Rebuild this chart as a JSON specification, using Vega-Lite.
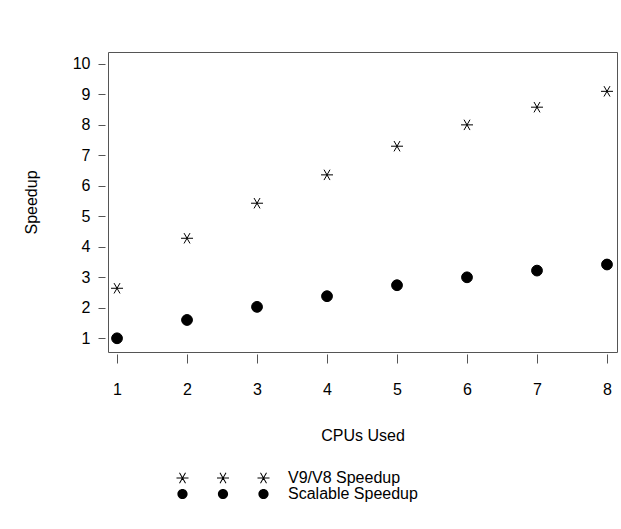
{
  "$schema": "https://vega.github.io/schema/vega-lite/v6.json",
  "autosize": {"type": "none"},
  "width": 509,
  "height": 300,
  "padding": {"left": 108, "top": 52, "right": 4, "bottom": 177},
  "background": "white",
  "config": {
    "font": "Liberation Sans",
    "view": {"stroke": "#555", "strokeWidth": 1},
    "axis": {
      "grid": false,
      "domain": false,
      "tickColor": "#555",
      "labelColor": "black",
      "labelFont": "Liberation Sans",
      "labelFontSize": 16,
      "titleFont": "Liberation Sans",
      "titleFontSize": 16,
      "titleFontWeight": "normal",
      "titleColor": "black"
    },
    "legend": {
      "labelFont": "Liberation Sans",
      "labelFontSize": 16,
      "labelColor": "black"
    }
  },
  "data": {
    "values": [
      {"cpus": 1, "series": "V9/V8 Speedup", "speedup": 2.64},
      {"cpus": 2, "series": "V9/V8 Speedup", "speedup": 4.28},
      {"cpus": 3, "series": "V9/V8 Speedup", "speedup": 5.43},
      {"cpus": 4, "series": "V9/V8 Speedup", "speedup": 6.36},
      {"cpus": 5, "series": "V9/V8 Speedup", "speedup": 7.3},
      {"cpus": 6, "series": "V9/V8 Speedup", "speedup": 8.0},
      {"cpus": 7, "series": "V9/V8 Speedup", "speedup": 8.58},
      {"cpus": 8, "series": "V9/V8 Speedup", "speedup": 9.1},
      {"cpus": 1, "series": "Scalable Speedup", "speedup": 1.0},
      {"cpus": 2, "series": "Scalable Speedup", "speedup": 1.6},
      {"cpus": 3, "series": "Scalable Speedup", "speedup": 2.03},
      {"cpus": 4, "series": "Scalable Speedup", "speedup": 2.38},
      {"cpus": 5, "series": "Scalable Speedup", "speedup": 2.74},
      {"cpus": 6, "series": "Scalable Speedup", "speedup": 3.0},
      {"cpus": 7, "series": "Scalable Speedup", "speedup": 3.22},
      {"cpus": 8, "series": "Scalable Speedup", "speedup": 3.42}
    ]
  },
  "encoding": {
    "x": {
      "field": "cpus",
      "type": "quantitative",
      "scale": {"domain": [0.871, 8.143], "nice": false, "zero": false},
      "axis": {
        "values": [1, 2, 3, 4, 5, 6, 7, 8],
        "title": "CPUs Used",
        "offset": 2,
        "tickSize": 9,
        "labelPadding": 18,
        "titlePadding": 30,
        "labelFlush": false
      }
    },
    "y": {
      "field": "speedup",
      "type": "quantitative",
      "scale": {"domain": [0.55, 10.39], "nice": false, "zero": false},
      "axis": {
        "values": [1, 2, 3, 4, 5, 6, 7, 8, 9, 10],
        "title": "Speedup",
        "offset": 3,
        "tickSize": 7,
        "labelPadding": 8,
        "titlePadding": 33,
        "labelFlush": false
      }
    }
  },
  "layer": [
    {
      "mark": {
        "type": "point",
        "size": 144,
        "fill": "black",
        "stroke": "black",
        "strokeWidth": 1,
        "opacity": 1,
        "fillOpacity": 1
      },
      "encoding": {
        "shape": {
          "field": "series",
          "type": "nominal",
          "scale": {
            "domain": ["V9/V8 Speedup", "Scalable Speedup"],
            "range": [
              "M-1,0L1,0M-0.5,-0.866L0.5,0.866M-0.5,0.866L0.5,-0.866",
              "M0.9,0A0.9,0.9,0,1,1,-0.9,0A0.9,0.9,0,1,1,0.9,0Z"
            ]
          },
          "legend": null
        }
      }
    },
    {
      "mark": {
        "type": "point",
        "size": 144,
        "fill": "black",
        "stroke": "black",
        "strokeWidth": 0.6,
        "opacity": 0
      },
      "encoding": {
        "shape": {
          "field": "series",
          "type": "nominal",
          "scale": {
            "domain": ["V9/V8 Speedup", "Scalable Speedup"],
            "range": [
              "M-7.75,-0.083L-5.75,-0.083L-5.75,0.083L-7.75,0.083ZM-6.322,0.9075L-7.322,-0.8245L-7.178,-0.9075L-6.178,0.8245ZM-6.178,-0.8245L-7.178,0.9075L-7.322,0.8245L-6.322,-0.9075ZM-1,-0.083L1,-0.083L1,0.083L-1,0.083ZM0.428,0.9075L-0.572,-0.8245L-0.428,-0.9075L0.572,0.8245ZM0.572,-0.8245L-0.428,0.9075L-0.572,0.8245L0.428,-0.9075ZM5.75,-0.083L7.75,-0.083L7.75,0.083L5.75,0.083ZM7.178,0.9075L6.178,-0.8245L6.322,-0.9075L7.322,0.8245ZM7.322,-0.8245L6.322,0.9075L6.178,0.8245L7.178,-0.9075Z",
              "M-5.9,0A0.85,0.85,0,1,1,-7.6,0A0.85,0.85,0,1,1,-5.9,0ZM0.85,0A0.85,0.85,0,1,1,-0.85,0A0.85,0.85,0,1,1,0.85,0ZM7.6,0A0.85,0.85,0,1,1,5.9,0A0.85,0.85,0,1,1,7.6,0Z"
            ]
          },
          "legend": {
            "title": null,
            "orient": "none",
            "legendX": 107,
            "legendY": 418,
            "padding": 0,
            "rowPadding": 0,
            "symbolSize": 144,
            "labelOffset": 57,
            "symbolFillColor": "black",
            "symbolStrokeColor": "black",
            "symbolStrokeWidth": 0.6,
            "symbolOpacity": 1
          }
        }
      }
    }
  ],
  "resolve": {"scale": {"shape": "independent"}, "legend": {"shape": "independent"}}
}
